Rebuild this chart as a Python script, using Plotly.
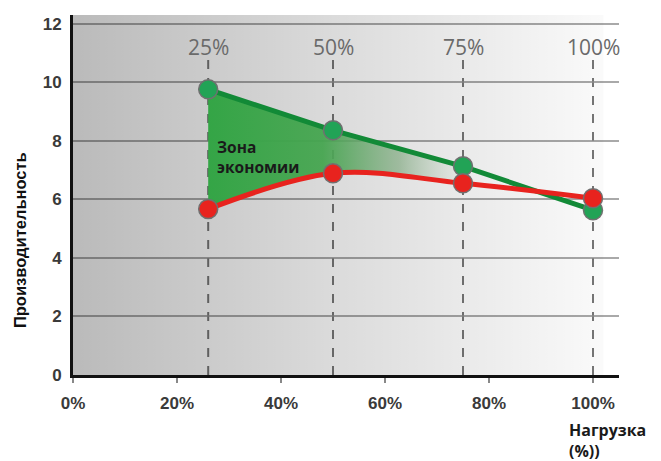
import plotly.graph_objects as go

# ---- Données ----
load_pct = [26, 50, 75, 100]                 # charge (%)
top_labels = ["25%", "50%", "75%", "100%"]
green_vals = [9.76, 8.36, 7.13, 5.63]        # sans régulation
red_vals = [5.67, 6.89, 6.55, 6.04]          # avec régulation
x_ticks = [0, 20, 40, 60, 80, 100]
x_ticktext = ["0%", "20%", "40%", "60%", "80%", "100%"]
y_ticks = [0, 2, 4, 6, 8, 10, 12]

GREEN_LINE = "#128a37"
GREEN_MARK = "#22a356"
RED = "#e8231e"

fig = go.Figure()

# fond dégradé gris -> blanc (semi transparent pour laisser voir la grille)
fig.add_trace(go.Scatter(
    x=[0, 102], y=[12.3, 12.3], mode="none", fill="tozeroy",
    fillgradient=dict(type="horizontal",
                      colorscale=[[0, "rgba(0,0,0,0.27)"], [0.5, "rgba(0,0,0,0.14)"],
                                  [1, "rgba(0,0,0,0.02)"]]),
    hoverinfo="skip", showlegend=False))

# zone d'économie entre les deux courbes (25% -> 75%)
fig.add_trace(go.Scatter(
    x=load_pct[:3], y=red_vals[:3], mode="lines",
    line=dict(width=0, shape="spline"), hoverinfo="skip", showlegend=False))
fig.add_trace(go.Scatter(
    x=load_pct[:3], y=green_vals[:3], mode="lines", fill="tonexty",
    line=dict(width=0),
    fillgradient=dict(type="horizontal",
                      colorscale=[[0, "rgba(52,165,70,1)"], [0.45, "rgba(70,165,80,0.95)"],
                                  [0.75, "rgba(130,170,130,0.7)"], [1, "rgba(225,228,225,0.4)"]]),
    hoverinfo="skip", showlegend=False))

# ---- Courbes ----
fig.add_trace(go.Scatter(
    x=load_pct, y=green_vals, mode="lines+markers",
    line=dict(color=GREEN_LINE, width=5),
    marker=dict(size=19, color=GREEN_MARK, line=dict(color="#707070", width=1.5)),
    showlegend=False))
fig.add_trace(go.Scatter(
    x=load_pct, y=red_vals, mode="lines+markers",
    line=dict(color=RED, width=5, shape="spline"),
    marker=dict(size=19, color=RED, line=dict(color="#707070", width=1.5)),
    showlegend=False))

# lignes verticales pointillées + étiquettes du haut
for xv, lab in zip(load_pct, top_labels):
    fig.add_shape(type="line", x0=xv, x1=xv, y0=0, y1=10.85, xref="x", yref="y",
                  line=dict(color="#777777", width=2, dash="dash"), layer="below")
    fig.add_annotation(x=xv, y=11.2, text=lab, showarrow=False, xref="x", yref="y",
                       font=dict(family="Open Sans", size=21, color="#6a6a6a"))

fig.add_annotation(x=27.3, y=7.45, text="Зона<br>экономии", showarrow=False,
                   xanchor="left", align="left", xref="x", yref="y",
                   font=dict(family="Open Sans", size=15.5, color="#1a1a1a", weight="bold"))

fig.add_annotation(x=-0.117, y=0.375, xref="paper", yref="paper", text="Производительность",
                   textangle=-90, showarrow=False,
                   font=dict(family="Liberation Sans", size=16.5, color="#111111", weight="bold"))

fig.add_annotation(x=0.905, y=-0.183, xref="paper", yref="paper", text="Нагрузка<br>(%))",
                   showarrow=False, xanchor="left", yanchor="middle", align="left",
                   font=dict(family="Open Sans", size=16, color="#1a1a1a", weight="bold"))

# ---- Layout ----
# la page ajoute une marge de 8 px autour de la figure
fig.update_layout(
    width=653, height=453,
    margin=dict(l=65, r=42, t=7, b=86),
    paper_bgcolor="white", plot_bgcolor="white",
    xaxis=dict(range=[0, 105], tickvals=x_ticks, ticktext=x_ticktext,
               showgrid=False, zeroline=False,
               showline=True, linecolor="#111111", linewidth=3,
               ticks="outside", ticklen=5, tickcolor="#888888", tickwidth=1.5,
               ticklabelstandoff=6,
               tickfont=dict(family="Liberation Sans", size=17, color="#3a3a3a", weight="bold")),
    yaxis=dict(range=[0, 12.3], tickvals=y_ticks,
               showgrid=True, gridcolor="rgba(140,140,140,0.75)", gridwidth=1.5,
               zeroline=False,
               showline=True, linecolor="#111111", linewidth=3,
               ticks="", ticklabelstandoff=5,
               tickfont=dict(family="Liberation Sans", size=17, color="#3a3a3a", weight="bold")),
)

fig.write_html("out.html")
